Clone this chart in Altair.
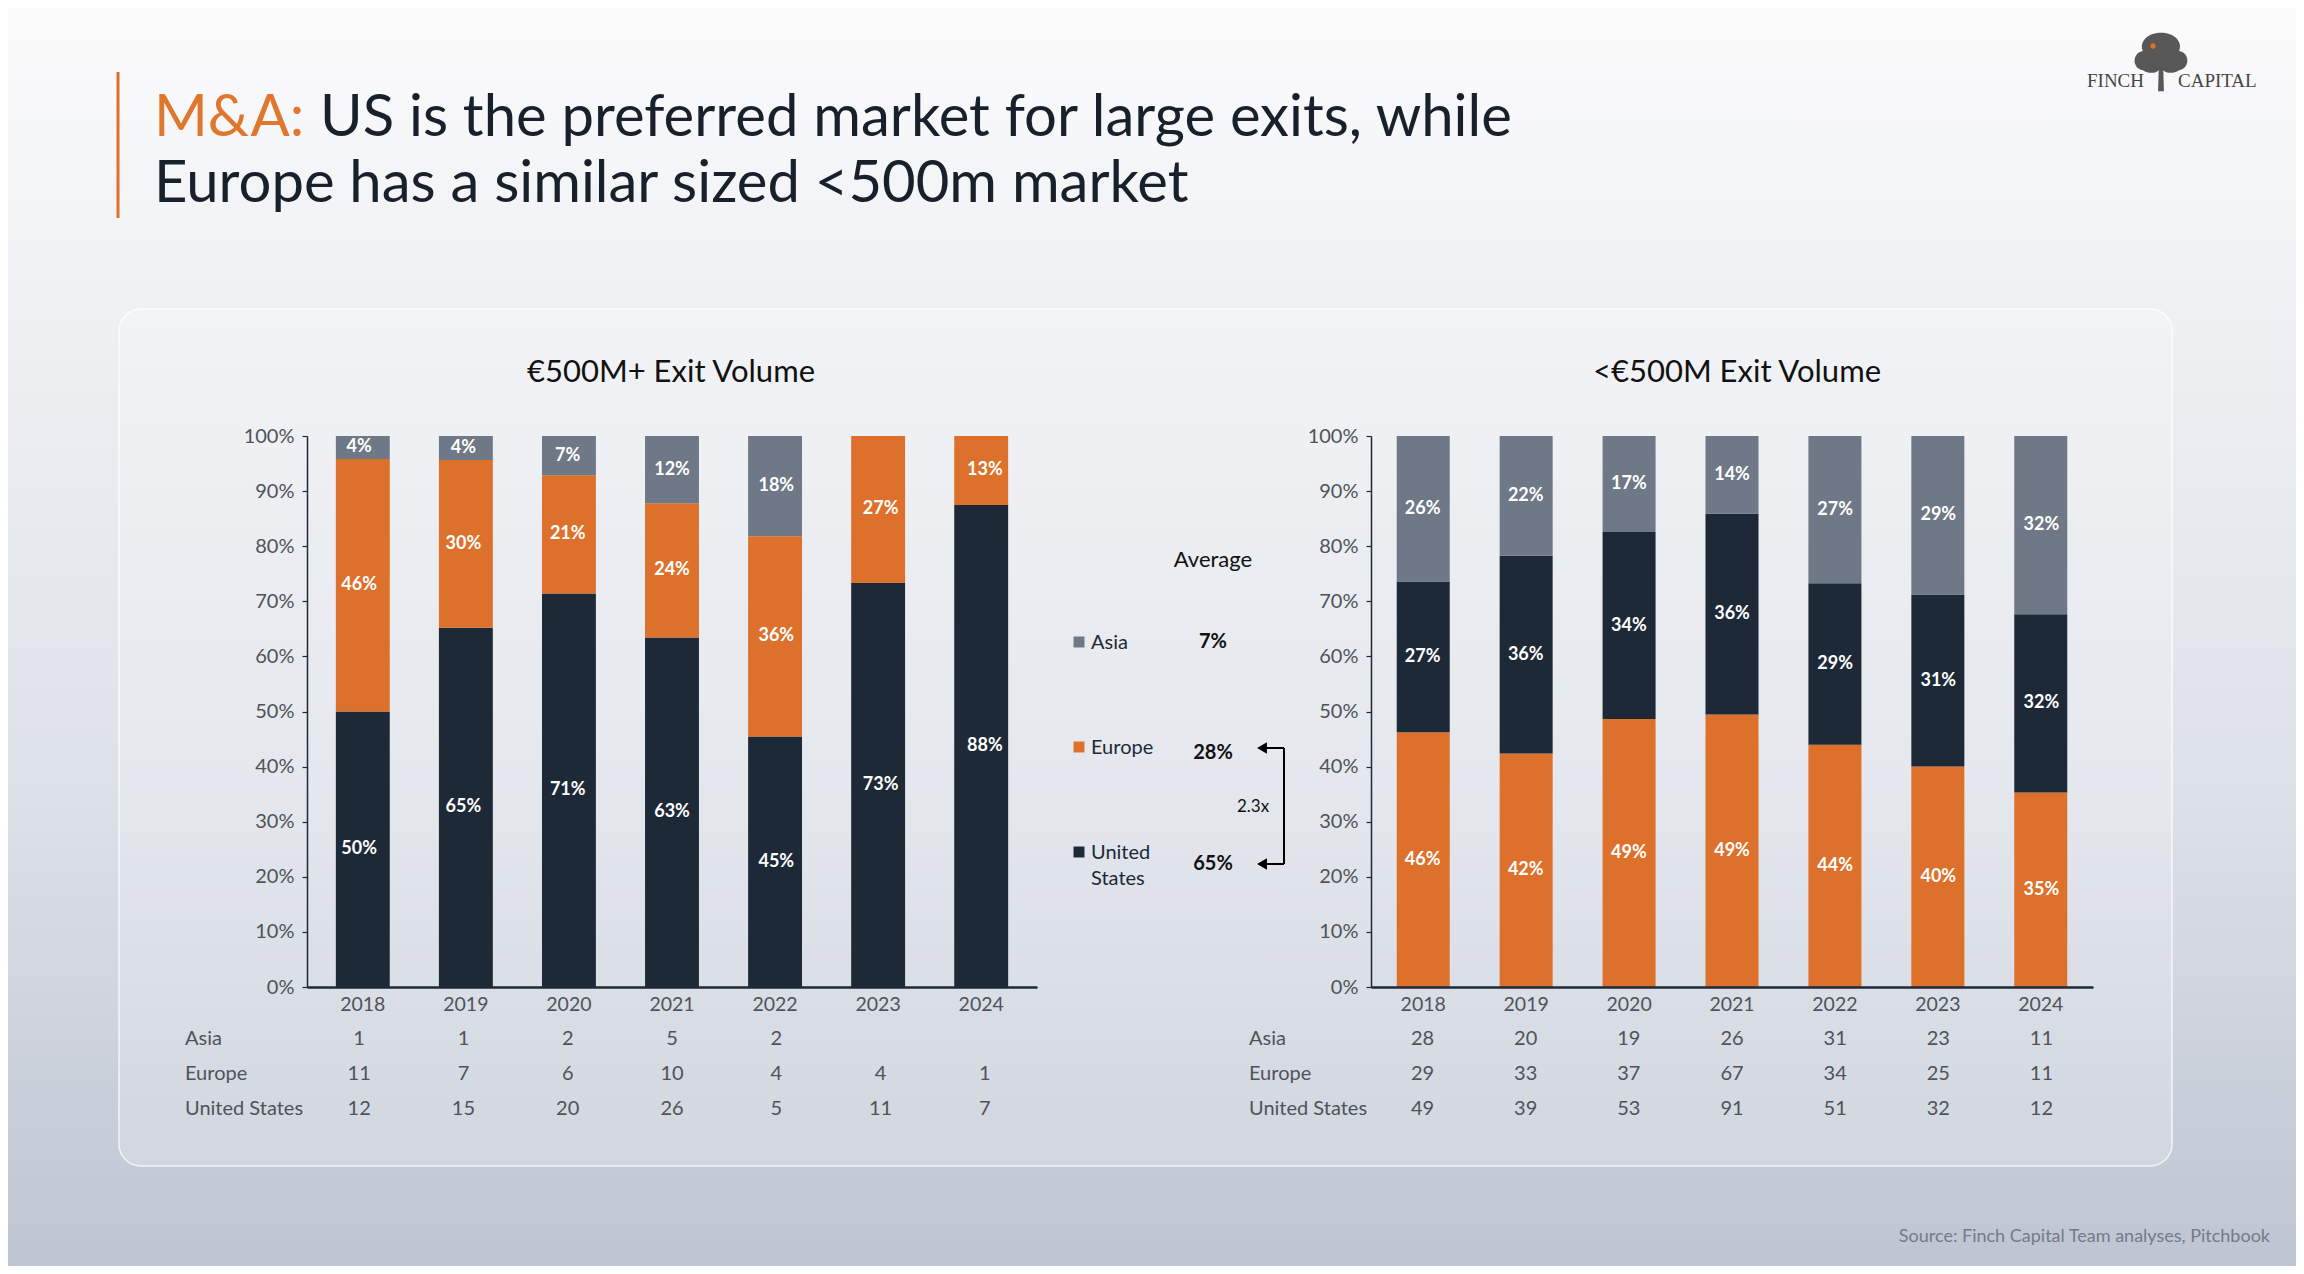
import altair as alt
import pandas as pd

# ---------------- data ----------------
years = ["2018", "2019", "2020", "2021", "2022", "2023", "2024"]
stack_order = ["United States", "Europe", "Asia"]  # bottom -> top

large_us = [12, 15, 20, 26, 5, 11, 7]
large_europe = [11, 7, 6, 10, 4, 4, 1]
large_asia = [1, 1, 2, 5, 2, 0, 0]

small_us = [49, 39, 53, 91, 51, 32, 12]
small_europe = [29, 33, 37, 67, 34, 25, 11]
small_asia = [28, 20, 19, 26, 31, 23, 11]

table_rows = ["Asia", "Europe", "United States"]
legend_names = ["Asia", "Europe", "United States"]
legend_labels = ["Asia", "Europe", "United\nStates"]
averages = ["7%", "28%", "65%"]
multiple_label = "2.3x"

title_prefix = "M&A:"
title_line1 = "US is the preferred market for large exits, while"
title_line2 = "Europe has a similar sized <500m market"
left_title = "€500M+ Exit Volume"
right_title = "<€500M Exit Volume"
source_text = "Source: Finch Capital Team analyses, Pitchbook"

# ---------------- styles ----------------
FONT = "Lato"
NAVY = "#1e2938"
ORANGE = "#dd712b"
GREY = "#6e7886"
TXT = "#4f5359"
W, H = 2288, 1258
Y_RANGE = [979, 428]
TREE_PATH = ("M0,-1 C0.5,-1 0.75,-0.65 0.62,-0.38 C1,-0.32 1,0.22 0.62,0.28 "
             "C0.42,0.42 0.16,0.38 0.08,0.28 L0.1,1 L-0.1,1 L-0.08,0.28 "
             "C-0.16,0.38 -0.42,0.42 -0.62,0.28 C-1,0.22 -1,-0.32 -0.62,-0.38 "
             "C-0.75,-0.65 -0.5,-1 0,-1 Z")


def segments(us, eu, asia):
    counts = {"United States": us, "Europe": eu, "Asia": asia}
    rows = []
    for i, yr in enumerate(years):
        total = sum(counts[s][i] for s in stack_order)
        cum = 0.0
        for s in stack_order:
            v = counts[s][i]
            f = v / total
            rows.append(dict(year=yr, series=s, y0=cum, y1=cum + f, mid=cum + f / 2,
                             label=(f"{int(f * 100 + 0.5)}%" if v > 0 else "")))
            cum += f
    return pd.DataFrame(rows)


def table(us, eu, asia):
    counts = {"United States": us, "Europe": eu, "Asia": asia}
    rows = []
    for r in table_rows:
        for i, yr in enumerate(years):
            v = counts[r][i]
            if v > 0:
                rows.append(dict(row=r, year=yr, value=str(v)))
    return pd.DataFrame(rows)


one = pd.DataFrame({"k": [0]})


def panel(seg, tab, xr, pi, po, colors, rowlabel_x, title, title_x):
    xs = alt.Scale(domain=years, range=xr, paddingInner=pi, paddingOuter=po)
    ys = alt.Scale(domain=[0, 1], range=Y_RANGE, nice=False, zero=False)
    rs = alt.Scale(type="point", domain=table_rows, range=[1031, 1101], padding=0)
    bars = alt.Chart(seg).mark_bar().encode(
        x=alt.X("year:N", scale=xs, sort=years,
                axis=alt.Axis(title=None, orient="bottom", offset=-(H - Y_RANGE[0]), labelAngle=0,
                              ticks=False, domainColor=NAVY, domainWidth=2.5, labelColor=TXT,
                              labelFontSize=19.5, labelFont=FONT, labelPadding=8, zindex=1)),
        y=alt.Y("y0:Q", scale=ys,
                axis=alt.Axis(title=None, orient="left", offset=-xr[0], values=[i / 10 for i in range(11)],
                              format=".0%", grid=False, domainColor=NAVY, domainWidth=1.5,
                              tickColor=NAVY, tickSize=5, tickWidth=1.2, labelColor=TXT,
                              labelFontSize=20, labelFont=FONT, labelPadding=8, zindex=1)),
        y2="y1:Q",
        color=alt.Color("series:N", scale=alt.Scale(domain=stack_order, range=colors), legend=None),
    )
    labels = alt.Chart(seg).transform_filter("datum.label != ''").mark_text(
        color="white", fontSize=18, fontWeight="bold", font=FONT, baseline="middle"
    ).encode(
        x=alt.X("year:N", scale=xs, axis=None),
        y=alt.Y("mid:Q", scale=ys, axis=None),
        text="label:N",
    )
    tvals = alt.Chart(tab).mark_text(color=TXT, fontSize=20, font=FONT, baseline="middle").encode(
        x=alt.X("year:N", scale=xs, axis=None),
        y=alt.Y("row:N", scale=rs, axis=None),
        text="value:N",
    )
    tlabels = alt.Chart(pd.DataFrame({"row": table_rows})).mark_text(
        color=TXT, fontSize=20, font=FONT, align="left", baseline="middle"
    ).encode(
        x=alt.value(rowlabel_x),
        y=alt.Y("row:N", scale=rs, axis=None),
        text="row:N",
    )
    ttl = alt.Chart(pd.DataFrame({"t": [title]})).mark_text(
        fontSize=31, font=FONT, color="#111111", baseline="middle"
    ).encode(x=alt.value(title_x), y=alt.value(365), text="t:N")
    return [bars, labels, tvals, tlabels, ttl]


large = segments(large_us, large_europe, large_asia)
small = segments(small_us, small_europe, small_asia)

left_layers = panel(large, table(large_us, large_europe, large_asia), [299, 1029], 0.477, 0.28,
                    [NAVY, ORANGE, GREY], 177, left_title, 663)
right_layers = panel(small, table(small_us, small_europe, small_asia), [1363, 2085], 0.485, 0.25,
                     [ORANGE, NAVY, GREY], 1241, right_title, 1729)

# ---------------- background ----------------
bg = alt.Chart(one).mark_rect(
    fill=alt.Gradient(gradient="linear", x1=0, x2=0, y1=0, y2=1,
                      stops=[alt.GradientStop(color="#fbfbfc", offset=0),
                             alt.GradientStop(color="#eef0f3", offset=0.25),
                             alt.GradientStop(color="#dde1e8", offset=0.62),
                             alt.GradientStop(color="#bec5d2", offset=1)])
).encode(x=alt.value(0), x2=alt.value(W), y=alt.value(0), y2=alt.value(H))

panel_rect = alt.Chart(one).mark_rect(
    cornerRadius=22, fill="white", fillOpacity=0.22, stroke="white", strokeOpacity=0.75, strokeWidth=1.5
).encode(x=alt.value(111), x2=alt.value(2164), y=alt.value(301), y2=alt.value(1158))

# ---------------- title ----------------
title_bar = alt.Chart(one).mark_rule(color=ORANGE, strokeWidth=3).encode(
    x=alt.value(110), y=alt.value(64), y2=alt.value(210))
t_prefix = alt.Chart(pd.DataFrame({"t": [title_prefix]})).mark_text(
    font=FONT, fontSize=58, color="#e0772f", align="left", baseline="alphabetic"
).encode(x=alt.value(146), y=alt.value(128), text="t:N")
t_line1 = alt.Chart(pd.DataFrame({"t": [title_line1]})).mark_text(
    font=FONT, fontSize=58, color="#18202c", align="left", baseline="alphabetic"
).encode(x=alt.value(312), y=alt.value(128), text="t:N")
t_line2 = alt.Chart(pd.DataFrame({"t": [title_line2]})).mark_text(
    font=FONT, fontSize=58, color="#18202c", align="left", baseline="alphabetic"
).encode(x=alt.value(146), y=alt.value(194), text="t:N")

# ---------------- middle legend ----------------
leg_df = pd.DataFrame({"name": legend_names, "label": legend_labels, "avg": averages})
ls = alt.Scale(type="point", domain=legend_names, range=[634, 844], padding=0)
la = alt.Scale(type="point", domain=legend_names, range=[634, 856], padding=0)
leg_sq = alt.Chart(leg_df).mark_square(size=120, opacity=1).encode(
    x=alt.value(1071),
    y=alt.Y("name:N", scale=ls, axis=None),
    color=alt.Color("name:N", scale=alt.Scale(domain=legend_names, range=[GREY, ORANGE, NAVY]), legend=None),
)
leg_txt = alt.Chart(leg_df).mark_text(
    font=FONT, fontSize=20, color="#1e2938", align="left", baseline="alphabetic", dy=7,
    lineBreak="\n", lineHeight=26
).encode(x=alt.value(1083), y=alt.Y("name:N", scale=ls, axis=None), text="label:N")
leg_avg = alt.Chart(leg_df).mark_text(
    font=FONT, fontSize=20, fontWeight="bold", color="#111111", align="center", baseline="middle"
).encode(x=alt.value(1205), y=alt.Y("name:N", scale=la, axis=None), text="avg:N")
avg_head = alt.Chart(pd.DataFrame({"t": ["Average"]})).mark_text(
    font=FONT, fontSize=22, color="#111111", baseline="middle"
).encode(x=alt.value(1205), y=alt.value(552), text="t:N")

arrow_top = alt.Chart(one).mark_rule(color="black", strokeWidth=2).encode(
    x=alt.value(1252), x2=alt.value(1276), y=alt.value(740))
arrow_vert = alt.Chart(one).mark_rule(color="black", strokeWidth=2).encode(
    x=alt.value(1276), y=alt.value(740), y2=alt.value(856))
arrow_bot = alt.Chart(one).mark_rule(color="black", strokeWidth=2).encode(
    x=alt.value(1252), x2=alt.value(1276), y=alt.value(856))
head_top = alt.Chart(one).mark_point(shape="triangle-left", filled=True, color="black", size=130, opacity=1).encode(
    x=alt.value(1254), y=alt.value(740))
head_bot = alt.Chart(one).mark_point(shape="triangle-left", filled=True, color="black", size=130, opacity=1).encode(
    x=alt.value(1254), y=alt.value(856))
mult = alt.Chart(pd.DataFrame({"t": [multiple_label]})).mark_text(
    font=FONT, fontSize=17, color="#111111", baseline="middle"
).encode(x=alt.value(1245), y=alt.value(799), text="t:N")

# ---------------- logo & source ----------------
logo_tree = alt.Chart(one).mark_point(
    shape=TREE_PATH, filled=True, color="#4a4a4a", size=3400, opacity=0.92
).encode(x=alt.value(2153), y=alt.value(54))
logo_bird = alt.Chart(one).mark_point(filled=True, color=ORANGE, size=28, opacity=1).encode(
    x=alt.value(2145), y=alt.value(38))
logo_l = alt.Chart(pd.DataFrame({"t": ["FINCH"]})).mark_text(
    font="Liberation Serif", fontSize=19, color="#454545", align="right", baseline="alphabetic"
).encode(x=alt.value(2136), y=alt.value(79), text="t:N")
logo_r = alt.Chart(pd.DataFrame({"t": ["CAPITAL"]})).mark_text(
    font="Liberation Serif", fontSize=19, color="#454545", align="left", baseline="alphabetic"
).encode(x=alt.value(2170), y=alt.value(79), text="t:N")
src = alt.Chart(pd.DataFrame({"t": [source_text]})).mark_text(
    font=FONT, fontSize=18, color="#737b88", align="right", baseline="middle"
).encode(x=alt.value(2262), y=alt.value(1229), text="t:N")

chart = alt.layer(
    bg, panel_rect, title_bar, t_prefix, t_line1, t_line2,
    *left_layers, *right_layers,
    leg_sq, leg_txt, leg_avg, avg_head,
    arrow_top, arrow_vert, arrow_bot, head_top, head_bot, mult,
    logo_tree, logo_bird, logo_l, logo_r, src,
).resolve_scale(
    x="independent", y="independent", color="independent"
).properties(
    width=W, height=H, autosize=alt.AutoSizeParams(type="none"), padding=0
).configure_view(stroke=None).configure(font=FONT)

chart.save("out.html", embed_options={"renderer": "svg", "actions": False})
